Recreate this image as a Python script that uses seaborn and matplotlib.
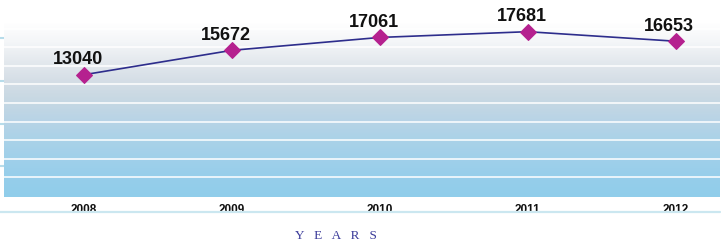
import numpy as np
import matplotlib
matplotlib.use("Agg")
import matplotlib.pyplot as plt
from matplotlib.colors import LinearSegmentedColormap
from matplotlib.lines import Line2D
import seaborn as sns
import pandas as pd

years = ["2008", "2009", "2010", "2011", "2012"]
values = [13040, 15672, 17061, 17681, 16653]
axis_title = "Y   E   A   R   S"

df = pd.DataFrame({"year": years, "value": values})
df["pos"] = range(len(df))

sns.set_style("white")
plt.rcParams["font.family"] = ["Liberation Sans", "DejaVu Sans"]

fig = plt.figure(figsize=(7.21, 2.41), dpi=100)
ax = fig.add_axes([4 / 721, 43.7 / 241, 716 / 721, 174.6 / 241])

# background gradient, white at top to sky blue at bottom
bg = LinearSegmentedColormap.from_list(
    "bg", ["#ffffff", "#f4f6f8", "#e4e9ee", "#d5dee6", "#c7d8e3",
           "#b9d4e6", "#abd2e8", "#a0d0ea", "#96ceeb", "#90cdea"])
ax.imshow(np.linspace(0, 1, 256).reshape(-1, 1), cmap=bg, aspect="auto",
          extent=[-0.54, 4.30, -170, 18650], zorder=0)

sns.lineplot(data=df, x="pos", y="value", ax=ax, color="#2d2d8c", linewidth=1.2,
             marker="D", markersize=8.5, markerfacecolor="#b5218f",
             markeredgecolor="#b5218f", zorder=3)

for x, v in zip(df["pos"], df["value"]):
    ax.annotate(str(v), (x, v), xytext=(-4.5, 4.5), textcoords="offset points",
                ha="center", va="bottom", fontsize=13, fontweight="bold",
                color="#111111", zorder=4)

ax.set_xlim(-0.54, 4.30)
ax.set_ylim(-170, 18650)
ax.set_yticks(range(2000, 18001, 2000))
ax.set_yticks([3160, 7710, 12370, 16950], minor=True)
ax.grid(axis="y", which="major", color="white", linewidth=1.1, zorder=1)
ax.set_axisbelow(False)
ax.tick_params(axis="y", which="major", length=0, labelleft=False)
ax.tick_params(axis="y", which="minor", length=4, width=1.5, color="#b7dcea", left=True)

ax.set_xticks(df["pos"])
ax.set_xticklabels(df["year"], fontsize=8.5, fontweight="bold", color="#111111")
ax.tick_params(axis="x", length=0, pad=5)
ax.set_xlabel("")
ax.set_ylabel("")
for s in ax.spines.values():
    s.set_visible(False)

fig.add_artist(Line2D([0, 720 / 721], [1 - 212 / 241] * 2, color="#cbe7f0",
                      linewidth=1.6, transform=fig.transFigure))
fig.text(336 / 721, 1 - 236 / 241, axis_title, ha="center", va="center",
         fontsize=9.5, color="#3b3b9a", family=["Liberation Serif", "DejaVu Serif"])

fig.savefig("out.png", dpi=100)
